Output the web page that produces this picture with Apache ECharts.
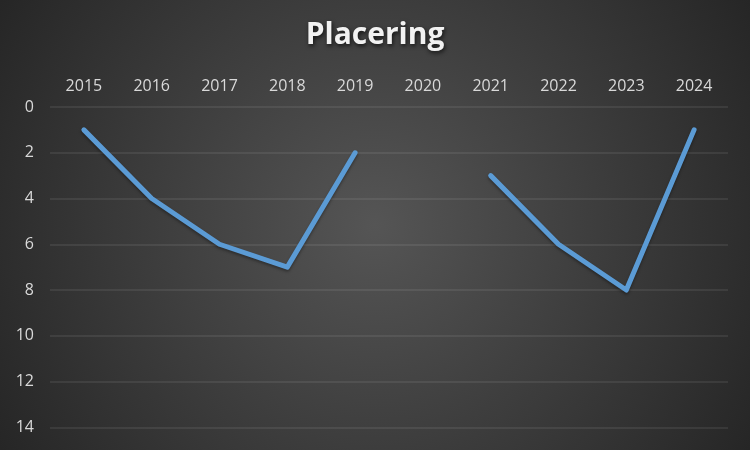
<!DOCTYPE html>
<html><head><meta charset="utf-8">
<script src="https://cdn.jsdelivr.net/npm/echarts@6/dist/echarts.min.js"></script>
<style>html,body{margin:0;padding:0;background:#333;}#c{width:750px;height:450px;}</style>
</head><body><div id="c"></div>
<script>
const years = ['2015','2016','2017','2018','2019','2020','2021','2022','2023','2024'];
const placering = [1, 4, 6, 7, 2, null, 3, 6, 8, 1];
const yTicks = [0, 2, 4, 6, 8, 10, 12, 14, 16];

const chart = echarts.init(document.getElementById('c'));
chart.setOption({
  animation: false,
  backgroundColor: {
    type: 'radial', x: 0.5, y: 0.5, r: 0.97,
    colorStops: [{offset: 0, color: '#555555'}, {offset: 1, color: '#262626'}]
  },
  title: {
    text: 'Placering', left: 'center', top: 15,
    textStyle: {
      color: '#f2f2f2', fontSize: 30, fontWeight: 'bold', fontFamily: 'Open Sans',
      textShadowColor: 'rgba(0,0,0,0.7)', textShadowBlur: 4, textShadowOffsetX: 1, textShadowOffsetY: 2
    }
  },
  grid: { left: 50, top: 107, width: 678, height: 366, outerBoundsMode: 'none' },
  xAxis: {
    type: 'category', data: years, position: 'top', boundaryGap: true,
    axisLine: { show: false }, axisTick: { show: false },
    axisLabel: { color: '#d9d9d9', fontSize: 16, fontFamily: 'Open Sans', margin: 13 }
  },
  yAxis: {
    type: 'value', inverse: true, min: 0, max: yTicks[yTicks.length-1], interval: 2,
    axisLine: { show: false }, axisTick: { show: false },
    axisLabel: { color: '#d9d9d9', fontSize: 16, fontFamily: 'Open Sans', margin: 16 },
    splitLine: { lineStyle: { color: 'rgba(255,255,255,0.1)', width: 1.5 } }
  },
  series: [{
    type: 'line', data: placering, connectNulls: false,
    symbol: 'none',
    lineStyle: { color: '#5b9bd5', width: 5, cap: 'round', join: 'round',
      shadowColor: 'rgba(0,0,0,0.35)', shadowBlur: 3, shadowOffsetY: 2 }
  }]
});
</script></body></html>
